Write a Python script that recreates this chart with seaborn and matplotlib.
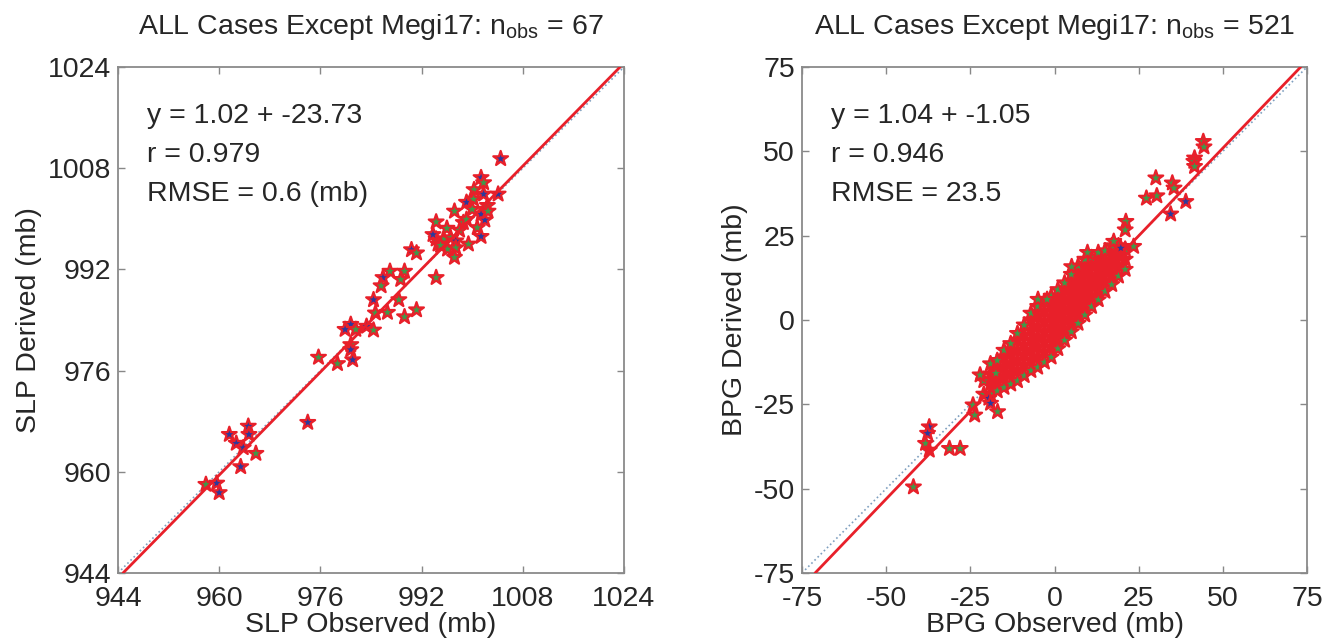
import numpy as np
import pandas as pd
import seaborn as sns
import matplotlib.pyplot as plt

# SLP: observed vs derived (mb), face colour of each star
slp_obs = [1004.5, 1001.4, 1001.8, 1000.3, 1001.8, 1004.1, 999.1, 1000.2, 1002.4, 997.2,
           1001.4, 1002.0, 1002.5, 994.3, 998.6, 999.1, 1000.8, 1001.4, 999.4, 994.3,
           995.5, 996.6, 997.4, 996.1, 997.4, 997.2, 994.6, 990.4, 991.2, 994.3,
           987.0, 989.3, 985.9, 985.6, 988.7, 984.4, 988.4, 984.7, 986.6, 989.3,
           991.2, 980.8, 979.9, 981.6, 983.3, 984.4, 980.8, 980.8, 981.1, 975.7,
           978.7, 974.0, 961.6, 962.7, 964.6, 964.7, 963.8, 965.8, 963.4, 957.9,
           959.6, 960.0, 995.0, 998.0, 993.8, 1000.0, 996.0]
slp_der = [1009.5, 1006.5, 1005.7, 1004.6, 1003.9, 1003.9, 1002.6, 1003.1, 1002.1, 1001.2,
           1000.7, 999.8, 1001.2, 999.5, 999.4, 999.9, 998.6, 997.2, 996.0, 996.8,
           996.8, 997.0, 996.5, 995.2, 995.4, 993.9, 996.0, 995.1, 994.6, 990.7,
           991.7, 991.7, 990.7, 989.4, 990.4, 987.2, 987.2, 985.1, 985.2, 984.5,
           985.6, 983.3, 982.5, 982.5, 983.0, 982.4, 980.1, 979.3, 977.7, 978.1,
           977.1, 967.8, 965.9, 964.5, 967.2, 965.9, 963.8, 962.9, 960.8, 958.0,
           958.2, 956.7, 995.8, 998.2, 997.5, 1001.5, 998.5]
slp_face = ['b', 'b', 'g', 'g', 'b', 'b', 'b', 'g', 'g', 'g',
            'b', 'b', 'g', 'g', 'g', 'g', 'g', 'b', 'g', 'g',
            'g', 'g', 'b', 'g', 'g', 'g', 'g', 'b', 'g', 'g',
            'g', 'g', 'b', 'g', 'g', 'b', 'g', 'g', 'g', 'g',
            'g', 'b', 'b', 'g', 'b', 'g', 'g', 'b', 'b', 'g',
            'g', 'b', 'b', 'b', 'b', 'b', 'b', 'g', 'b', 'g',
            'b', 'b', 'g', 'g', 'b', 'g', 'g']

# BPG: scattered outliers
bpg_obs_out = [44.2, 44.4, 41.6, 41.4, 41.6, 30.1, 30.4, 27.3, 35.0, 35.5, 39.0, 34.5,
               21.2, 21.0, 17.6, 19.7, 23.5, 9.8, 5.1, -4.9, -2.2, -22.1, -17.4, -24.2,
               -23.7, -19.5, -19.0, -16.9, -37.2, -37.7, -38.3, -37.2, -31.2, -28.0, -41.9]
bpg_der_out = [52.9, 51.3, 48.0, 47.0, 45.5, 42.1, 36.8, 36.1, 40.6, 39.1, 35.1, 31.4,
               29.2, 26.7, 23.3, 21.3, 21.8, 20.0, 15.8, 6.1, 6.1, -16.3, -15.8, -25.2,
               -28.2, -23.2, -24.7, -27.2, -31.7, -33.6, -36.6, -38.6, -38.1, -38.1, -49.5]
bpg_face_out = ['g', 'g', 'r', 'g', 'g', 'g', 'g', 'g', 'g', 'g', 'b', 'b',
                'g', 'g', 'g', 'b', 'g', 'g', 'g', 'g', 'g', 'g', 'g', 'g',
                'g', 'b', 'b', 'g', 'b', 'b', 'g', 'r', 'g', 'g', 'g']

# BPG: dense core, observed value -> derived values read column by column
bpg_core = [
    (-21, [-22, -18]),
    (-19, [-22, -19, -16, -13]),
    (-17, [-21, -18, -15, -12]),
    (-15, [-20, -17, -14, -11, -9]),
    (-13, [-19, -16, -13, -10, -7]),
    (-11, [-18, -15, -12, -9, -6, -4]),
    (-9, [-16.5, -13.5, -10.5, -7.5, -4.5, -1.5]),
    (-7, [-15, -12, -9, -6, -3, 0, 2]),
    (-5, [-14, -11, -8, -5, -2, 1, 4]),
    (-3, [-12.5, -9.5, -6.5, -3.5, -0.5, 2.5, 5.5]),
    (-1, [-11, -8, -5, -2, 1, 4, 7]),
    (1, [-8.5, -5.5, -2.5, 0.5, 3.5, 6.5, 9]),
    (3, [-6, -3, 0, 3, 6, 9, 11]),
    (5, [-3.5, -0.5, 2.5, 5.5, 8.5, 11.5, 13.5]),
    (7, [-1, 2, 5, 8, 11, 14, 16]),
    (9, [1.5, 4.5, 7.5, 10.5, 13.5, 16.5, 18]),
    (11, [4, 7, 10, 13, 16, 18.5]),
    (13, [6, 9, 12, 15, 18, 20]),
    (15, [8.5, 11.5, 14.5, 17.5, 20.5]),
    (17, [10.5, 13.5, 16.5, 19.5, 22]),
    (19, [13, 16, 19, 22]),
    (21, [15, 18, 21]),
]

# fitted lines (slope, intercept) as drawn on the reference
slp_fit = (1.018, -17.8)
bpg_fit = (1.04, -1.05)

slp_ticks = [944, 960, 976, 992, 1008, 1024]
bpg_ticks = [-75, -50, -25, 0, 25, 50, 75]

RED = '#e8202a'
face_pal = {'b': '#2b3a9c', 'g': '#3f9a4a', 'r': RED}

# build tables
slp_df = pd.DataFrame({'obs': slp_obs, 'der': slp_der, 'face': slp_face})

rows = []
for xo, ys in bpg_core:
    for i, yd in enumerate(ys):
        edge = i == 0 or i == len(ys) - 1
        rows.append((xo, yd, 'g' if edge else 'r'))
core_df = pd.DataFrame(rows, columns=['obs', 'der', 'face'])
out_df = pd.DataFrame({'obs': bpg_obs_out, 'der': bpg_der_out, 'face': bpg_face_out})
# red-faced core first, then the periphery
bpg_df = pd.concat([core_df[core_df.face == 'r'], core_df[core_df.face != 'r'], out_df],
                   ignore_index=True)

sns.set_style('white')
plt.rcParams['font.family'] = ['Liberation Sans', 'DejaVu Sans']
plt.rcParams['mathtext.fontset'] = 'custom'
plt.rcParams['mathtext.rm'] = 'Liberation Sans'
plt.rcParams['mathtext.it'] = 'Liberation Sans'
plt.rcParams['axes.unicode_minus'] = False
FS = 20.5

fig = plt.figure(figsize=(13.36, 6.41), dpi=100)
ax1 = fig.add_axes([118 / 1336, 68 / 641, 506 / 1336, 506 / 641])
ax2 = fig.add_axes([802 / 1336, 68 / 641, 505 / 1336, 506 / 641])


def panel(ax, df, lims, ticks, fit, title, xlabel, ylabel, stats):
    ax.plot(lims, lims, linestyle=':', color='#7f9fbf', lw=1.2, zorder=1)
    sns.scatterplot(data=df, x='obs', y='der', hue='face', palette=face_pal, marker='*',
                    s=125, edgecolor=RED, linewidth=1.6, legend=False, ax=ax, zorder=2)
    m, b = fit
    ax.axline((0, b), slope=m, color=RED, lw=2.0, zorder=3)
    ax.set_xlim(lims)
    ax.set_ylim(lims)
    ax.set_xticks(ticks)
    ax.set_yticks(ticks)
    ax.tick_params(direction='in', length=5, width=1, color='#888888', labelsize=FS,
                   top=True, right=True, bottom=True, left=True)
    ax.tick_params(axis='x', pad=9)
    ax.tick_params(axis='y', pad=5)
    for sp in ax.spines.values():
        sp.set_color('#8a8a8a')
        sp.set_linewidth(1.3)
    ax.set_title(title, fontsize=FS, pad=24)
    ax.set_xlabel(xlabel, fontsize=FS, labelpad=0)
    ax.set_ylabel(ylabel, fontsize=FS, labelpad=4)
    for i, s in enumerate(stats):
        ax.text(0.058, 0.903 - i * 0.077, s, transform=ax.transAxes, fontsize=FS,
                va='center', ha='left')


panel(ax1, slp_df, (944, 1024), slp_ticks, slp_fit,
      r'ALL Cases Except Megi17: n$_{\mathrm{obs}}$ = 67',
      'SLP Observed (mb)', 'SLP Derived (mb)',
      ['y = 1.02 + -23.73', 'r = 0.979', 'RMSE = 0.6 (mb)'])
panel(ax2, bpg_df, (-75, 75), bpg_ticks, bpg_fit,
      r'ALL Cases Except Megi17: n$_{\mathrm{obs}}$ = 521',
      'BPG Observed (mb)', 'BPG Derived (mb)',
      ['y = 1.04 + -1.05', 'r = 0.946', 'RMSE = 23.5'])

fig.savefig('out.png', dpi=100)
